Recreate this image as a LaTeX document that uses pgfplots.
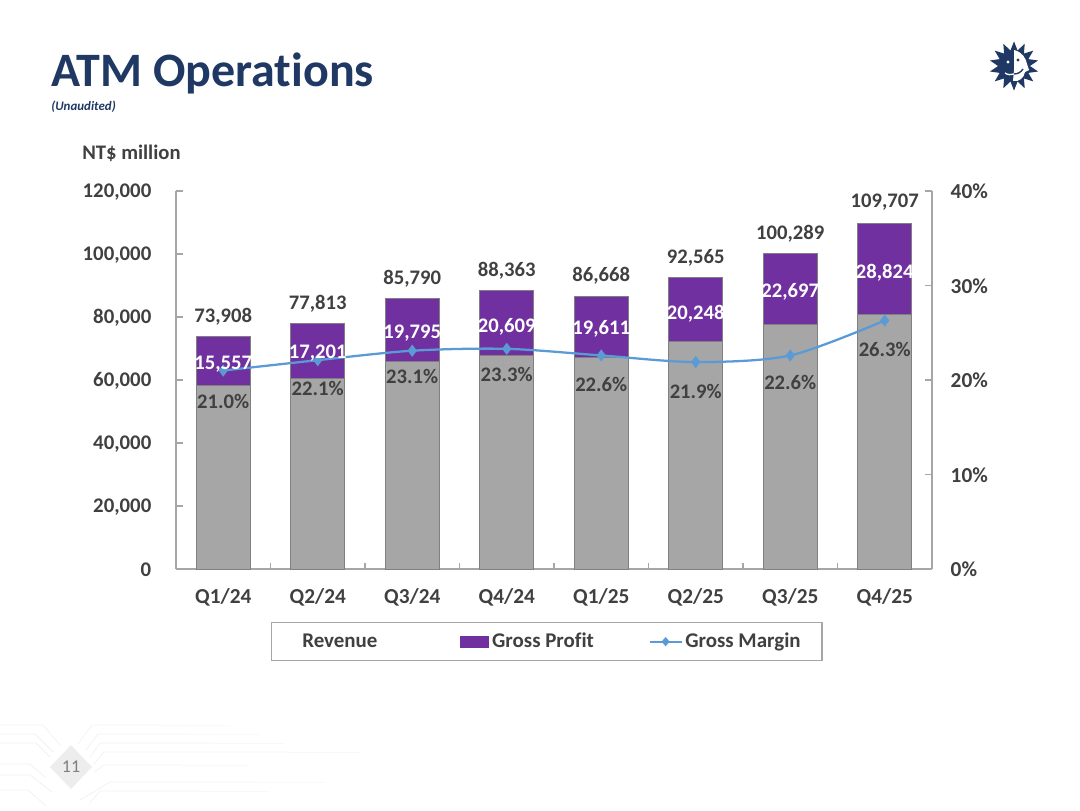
\documentclass[border=0pt]{standalone}
\usepackage{pgfplots}
\usepackage{pgfplotstable}
\usepackage{fontspec}
\pgfplotsset{compat=1.18}
\usetikzlibrary{shapes.geometric}
\setmainfont[Ligatures=NoCommon]{Carlito}
\definecolor{txt}{HTML}{404040}
\definecolor{axgray}{HTML}{A6A6A6}
\definecolor{barg}{HTML}{A6A6A6}
\definecolor{barp}{HTML}{7030A0}
\definecolor{linec}{HTML}{5B9BD5}
\definecolor{navy}{HTML}{1F3864}
\pgfplotstableread{
x cost gp
0 58351 15557
1 60612 17201
2 65995 19795
3 67754 20609
4 67057 19611
5 72317 20248
6 77592 22697
7 80883 28824
}\bars
\pgfplotstableread{
x gm
0 21.0
1 22.1
2 23.1
3 23.3
4 22.6
5 21.9
6 22.6
7 26.3
}\margin
\pgfplotstableread{
x y label
0 80635 73,908
1 84762 77,813
2 92698 85,790
3 95238 88,363
4 93651 86,668
5 99365 92,565
6 106984 100,289
7 116825 109,707
}\revlabels
\pgfplotstableread{
x y label
0 65397 15,557
1 68889 17,201
2 75238 19,795
3 77460 20,609
4 76825 19,611
5 81587 20,248
6 88571 22,697
7 94603 28,824
}\gplabels
\pgfplotstableread{
x y label
0 53651 21.0\%
1 57778 22.1\%
2 61587 23.1\%
3 62222 23.3\%
4 59048 22.6\%
5 56825 21.9\%
6 59683 22.6\%
7 70159 26.3\%
}\gmlabels
\begin{document}
\begin{tikzpicture}[x=0.75pt,y=-0.75pt]
\path[use as bounding box] (0,0) rectangle (1080,810);
% footer decoration
\foreach \a/\b/\c/\d in {725/43/745/60,734/35/752/53,743/36/757/50,764/30/778/46,775/30/792/52,790/28/806/46}{
  \draw[black!5,line width=0.6pt] (0,\a) -- (\b,\a) -- (\d,\c);
}
\foreach \a/\b/\c/\d/\e in {725/92/744/78/160,734/98/750/86/190,743/100/757/90/215,752/104/764/94/290,765/104/772/94/180,782/110/800/80/255,791/100/803/90/200}{
  \draw[black!5,line width=0.6pt] (\d,\c) -- (\b,\a) -- (\e,\a);
  \draw[black!2.5,line width=0.6pt] (\e,\a) -- ({\e+70},\a);
}
\fill[black!7] (71,745) -- (92,767) -- (71,789) -- (50,767) -- cycle;
\node[text=black!50,font=\fontsize{13.5pt}{15pt}\selectfont] at (71,767) {11};
% title
\node[anchor=base west,text=navy,inner sep=0pt,font=\bfseries\fontsize{36pt}{40pt}\selectfont] at (51,86) {ATM Operations};
\node[anchor=west,text=navy,inner sep=0pt,font=\bfseries\itshape\fontsize{9.7pt}{11pt}\selectfont] at (51,106.5) {(Unaudited)};
\node[anchor=west,text=txt,inner sep=0pt,font=\bfseries\fontsize{15.5pt}{18pt}\selectfont] at (82,153) {NT\$ million};
% logo
\node[star,star points=14,star point ratio=1.55,fill=navy,minimum size=37pt,inner sep=0pt] at (1014,66) {};
\fill[white] (1014,50) .. controls (1022,52) and (1026,58) .. (1027,64) -- (1029,70) -- (1025,72) .. controls (1024,78) and (1019,82) .. (1013,81) -- (1014,70) -- cycle;
\fill[navy] (1018,60) circle (1.6);
\fill[white] (1008,62) circle (1.6);
\draw[white,line width=1pt] (1005,73) .. controls (1008,75) and (1011,75) .. (1014,74);
\draw[navy,line width=1pt] (1014,74) .. controls (1018,74) and (1021,72) .. (1023,69);
% bars
\begin{axis}[at={(132pt,-426.75pt)},anchor=south west,scale only axis,
  width=567pt,height=283.5pt,
  xmin=-0.5,xmax=7.5,ymin=0,ymax=120000,
  axis y line*=left,axis x line*=bottom,
  axis line style={axgray,line width=0.9pt,-},
  ybar stacked,bar width=40.5pt,
  xtick={0,...,7},xticklabels={Q1/24,Q2/24,Q3/24,Q4/24,Q1/25,Q2/25,Q3/25,Q4/25},
  major x tick style={draw=none},
  minor xtick={-0.5,0.5,...,7.5},
  minor tick length=4.5pt,
  x tick style={axgray,line width=0.8pt},
  tick align=inside,
  ytick={0,20000,40000,60000,80000,100000,120000},
  yticklabels={0,{20,000},{40,000},{60,000},{80,000},{100,000},{120,000}},
  major tick length=5pt,
  y tick style={axgray,line width=0.8pt},
  scaled y ticks=false,
  xticklabel style={yshift=-11pt,text=txt,font=\bfseries\fontsize{16pt}{18pt}\selectfont},
  yticklabel style={xshift=-15pt,yshift=-0.7pt,text=txt,font=\bfseries\fontsize{15.6pt}{18pt}\selectfont},
]
\addplot[fill=barg,draw=black!50,line width=0.6pt,forget plot] table[x=x,y=cost] {\bars};
\addplot[fill=barp,draw=black!50,line width=0.6pt,forget plot] table[x=x,y=gp] {\bars};
\end{axis}
% margin line
\begin{axis}[at={(132pt,-426.75pt)},anchor=south west,scale only axis,
  width=567pt,height=283.5pt,
  xmin=-0.5,xmax=7.5,ymin=0,ymax=40,
  axis x line=none,axis y line*=right,
  axis line style={axgray,line width=0.9pt,-},
  ytick={0,10,20,30,40},
  yticklabels={0\%,10\%,20\%,30\%,40\%},
  tick align=inside,major tick length=5pt,
  y tick style={axgray,line width=0.8pt},
  ticklabel style={text=txt,font=\bfseries\fontsize{16pt}{18pt}\selectfont},
  yticklabel style={xshift=10.5pt,yshift=-0.3pt},
]
\addplot[linec,line width=1.7pt,smooth,tension=0.5,mark=diamond*,mark size=3.2pt,mark options={fill=linec,draw=linec}] table[x=x,y=gm] {\margin};
\end{axis}
% labels and legend
\begin{axis}[at={(132pt,-426.75pt)},anchor=south west,scale only axis,
  width=567pt,height=283.5pt,
  xmin=-0.5,xmax=7.5,ymin=0,ymax=120000,
  axis lines=none,clip=false,
  nodes near coords,point meta=explicit symbolic,
  legend columns=3,
  legend style={at={(0.1257,-0.1402)},anchor=north west,draw=axgray,line width=0.9pt,
    font=\bfseries\fontsize{15.7pt}{18pt}\selectfont,text=txt,
    inner xsep=2pt,inner ysep=6pt,
    /tikz/column 2/.style={column sep=60pt},
    /tikz/column 4/.style={column sep=39pt},
    nodes={text=txt}},
]
\addplot[draw=none,mark=none,forget plot,nodes near coords style={anchor=center,yshift=-1.2pt,text=txt,font=\bfseries\fontsize{15.5pt}{18pt}\selectfont}] table[x=x,y=y,meta=label] {\revlabels};
\addplot[draw=none,mark=none,forget plot,nodes near coords style={anchor=center,yshift=-1.2pt,text=white,font=\bfseries\fontsize{15.5pt}{18pt}\selectfont}] table[x=x,y=y,meta=label] {\gplabels};
\addplot[draw=none,mark=none,forget plot,nodes near coords style={anchor=center,yshift=-1.2pt,text=txt,font=\bfseries\fontsize{15.5pt}{18pt}\selectfont}] table[x=x,y=y,meta=label] {\gmlabels};
\addlegendimage{legend image code/.code={\path[draw=none] (0pt,-1pt) rectangle (19pt,1pt);}}
\addlegendentry{Revenue}
\addlegendimage{legend image code/.code={\fill[barp,draw=none] (0pt,-4.5pt) rectangle (22pt,4.5pt);}}
\addlegendentry{Gross Profit}
\addlegendimage{legend image code/.code={\draw[linec,line width=1.5pt] (0pt,0pt) -- (24pt,0pt); \fill[linec,draw=none] (12pt,3.5pt) -- (15pt,0pt) -- (12pt,-3.5pt) -- (9pt,0pt) -- cycle;}}
\addlegendentry{Gross Margin\hspace{12pt}\mbox{}}
\end{axis}
\end{tikzpicture}
\end{document}
